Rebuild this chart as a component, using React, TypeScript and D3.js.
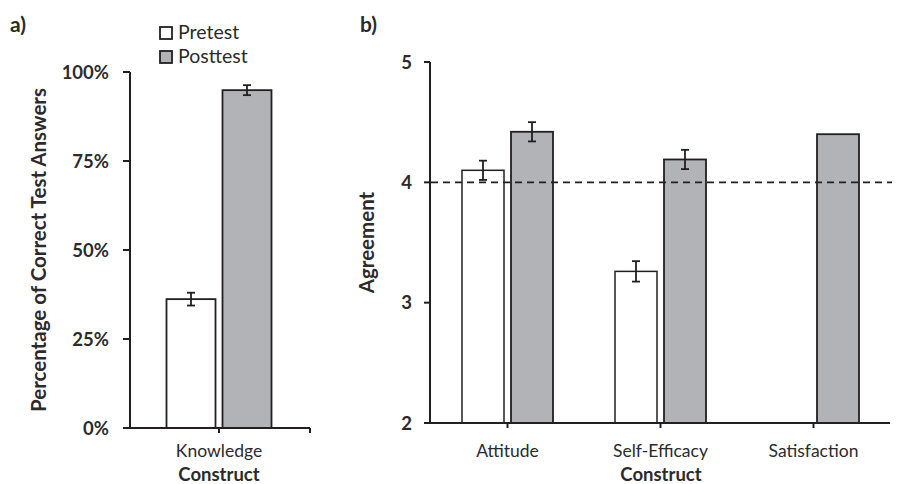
import * as d3 from "d3"

// panel a data
const knowledgeCats = ["Knowledge"]
const knowledgePre = [36.2]
const knowledgePreErr = [1.8]
const knowledgePost = [94.9]
const knowledgePostErr = [1.4]
const pctTicks = [0, 25, 50, 75, 100]

// panel b data
const constructCats = ["Attitude", "Self-Efficacy", "Satisfaction"]
const agreePre: (number | null)[] = [4.1, 3.26, null]
const agreePreErr: (number | null)[] = [0.08, 0.085, null]
const agreePost = [4.42, 4.19, 4.4]
const agreePostErr: (number | null)[] = [0.08, 0.08, null]
const agreeTicks = [2, 3, 4, 5]
const neutralLine = 4

const series = ["Pretest", "Posttest"]
const fills = ["#ffffff", "#b2b3b6"]
const ink = "#231f20"
const textInk = "#2b2b2b"
const font = "Lato, 'Open Sans', sans-serif"

function ErrorBar({ x, y0, y1 }: { x: number; y0: number; y1: number }) {
  return (
    <g stroke={ink} strokeWidth={1.8}>
      <line x1={x} x2={x} y1={y0} y2={y1} />
      <line x1={x - 4} x2={x + 4} y1={y0} y2={y0} />
      <line x1={x - 4} x2={x + 4} y1={y1} y2={y1} />
    </g>
  )
}

function PanelA() {
  const y = d3.scaleLinear().domain([0, 100]).range([428, 72])
  const x = d3.scaleBand().domain(knowledgeCats).range([128, 310])
  const barW = 49
  const gap = 7
  return (
    <g>
      <text x={10} y={32} fontWeight="bold" fontSize={21} fill={textInk}>a)</text>
      {/* legend */}
      {series.map((s, i) => (
        <g key={s} transform={`translate(160,${27 + i * 24})`}>
          <rect width={12} height={12} fill={fills[i]} stroke={ink} strokeWidth={1.8} />
          <text x={18} y={12} fontSize={19.5} fill={textInk}>{s}</text>
        </g>
      ))}
      {knowledgeCats.map((c, i) => {
        const cx = x(c)! + x.bandwidth() / 2
        const xPre = cx - gap / 2 - barW
        const xPost = cx + gap / 2
        return (
          <g key={c}>
            <rect x={xPre} y={y(knowledgePre[i])} width={barW} height={y(0) - y(knowledgePre[i])}
              fill={fills[0]} stroke={ink} strokeWidth={1.8} />
            <rect x={xPost} y={y(knowledgePost[i])} width={barW} height={y(0) - y(knowledgePost[i])}
              fill={fills[1]} stroke={ink} strokeWidth={1.8} />
            <ErrorBar x={xPre + barW / 2} y0={y(knowledgePre[i] + knowledgePreErr[i])} y1={y(knowledgePre[i] - knowledgePreErr[i])} />
            <ErrorBar x={xPost + barW / 2} y0={y(knowledgePost[i] + knowledgePostErr[i])} y1={y(knowledgePost[i] - knowledgePostErr[i])} />
            <line x1={cx} x2={cx} y1={y(0)} y2={y(0) + 5} stroke={ink} strokeWidth={2} />
            <text x={cx} y={457} textAnchor="middle" fontSize={17.5} fill={textInk}>{c}</text>
          </g>
        )
      })}
      {/* axes */}
      <line x1={130} x2={130} y1={y(100)} y2={y(0)} stroke={ink} strokeWidth={2} />
      <line x1={123} x2={310} y1={y(0)} y2={y(0)} stroke={ink} strokeWidth={2} />
      <line x1={310} x2={310} y1={y(0)} y2={y(0) + 5} stroke={ink} strokeWidth={2} />
      {pctTicks.map((t) => (
        <g key={t}>
          <line x1={123} x2={130} y1={y(t)} y2={y(t)} stroke={ink} strokeWidth={2} />
          <text x={109} y={y(t)} dy="0.36em" textAnchor="end" fontWeight="bold" fontSize={18.5} fill={textInk}>{t}%</text>
        </g>
      ))}
      <text transform={`translate(46,${(y(0) + y(100)) / 2}) rotate(-90)`} textAnchor="middle"
        fontWeight="bold" fontSize={20.5} fill={textInk}>Percentage of Correct Test Answers</text>
      <text x={219} y={481} textAnchor="middle" fontWeight="bold" fontSize={18.5} fill={textInk}>Construct</text>
    </g>
  )
}

function PanelB() {
  const y = d3.scaleLinear().domain([2, 5]).range([423, 62])
  const x = d3.scaleBand().domain(constructCats).range([431, 890])
  const barW = 42
  const gap = 7
  return (
    <g>
      <text x={360} y={32} fontWeight="bold" fontSize={21} fill={textInk}>b)</text>
      {constructCats.map((c, i) => {
        const cx = x(c)! + x.bandwidth() / 2
        const xPre = cx - gap / 2 - barW
        const xPost = cx + gap / 2
        const pre = agreePre[i]
        return (
          <g key={c}>
            {pre != null && (
              <rect x={xPre} y={y(pre)} width={barW} height={y(2) - y(pre)}
                fill={fills[0]} stroke={ink} strokeWidth={1.5} />
            )}
            <rect x={xPost} y={y(agreePost[i])} width={barW} height={y(2) - y(agreePost[i])}
              fill={fills[1]} stroke={ink} strokeWidth={1.8} />
            <line x1={cx} x2={cx} y1={y(2)} y2={y(2) + 5} stroke={ink} strokeWidth={2} />
            <text x={cx} y={457} textAnchor="middle" fontSize={17.5} fill={textInk}>{c}</text>
          </g>
        )
      })}
      <line x1={431} x2={892} y1={y(neutralLine)} y2={y(neutralLine)} stroke={ink} strokeWidth={1.8} strokeDasharray="7,5" />
      {constructCats.map((c, i) => {
        const cx = x(c)! + x.bandwidth() / 2
        const xPre = cx - gap / 2 - barW
        const xPost = cx + gap / 2
        const pre = agreePre[i]
        const preErr = agreePreErr[i]
        const postErr = agreePostErr[i]
        return (
          <g key={c}>
            {pre != null && preErr != null && (
              <ErrorBar x={xPre + barW / 2} y0={y(pre + preErr)} y1={y(pre - preErr)} />
            )}
            {postErr != null && (
              <ErrorBar x={xPost + barW / 2} y0={y(agreePost[i] + postErr)} y1={y(agreePost[i] - postErr)} />
            )}
          </g>
        )
      })}
      <line x1={430} x2={430} y1={y(5)} y2={y(2)} stroke={ink} strokeWidth={2} />
      <line x1={424} x2={890} y1={y(2)} y2={y(2)} stroke={ink} strokeWidth={2} />
      {agreeTicks.map((t) => (
        <g key={t}>
          <line x1={424} x2={430} y1={y(t)} y2={y(t)} stroke={ink} strokeWidth={2} />
          <text x={412} y={y(t)} dy="0.36em" textAnchor="end" fontWeight="bold" fontSize={18.5} fill={textInk}>{t}</text>
        </g>
      ))}
      <text transform={`translate(374,${(y(2) + y(5)) / 2}) rotate(-90)`} textAnchor="middle"
        fontWeight="bold" fontSize={20.5} fill={textInk}>Agreement</text>
      <text x={661} y={481} textAnchor="middle" fontWeight="bold" fontSize={18.5} fill={textInk}>Construct</text>
    </g>
  )
}

export default function App() {
  return (
    <svg width={898} height={484} fontFamily={font}
      style={{ position: "absolute", left: 0, top: 0, background: "#fff" }}>
      <rect width={898} height={484} fill="#fff" />
      <PanelA />
      <PanelB />
    </svg>
  )
}
